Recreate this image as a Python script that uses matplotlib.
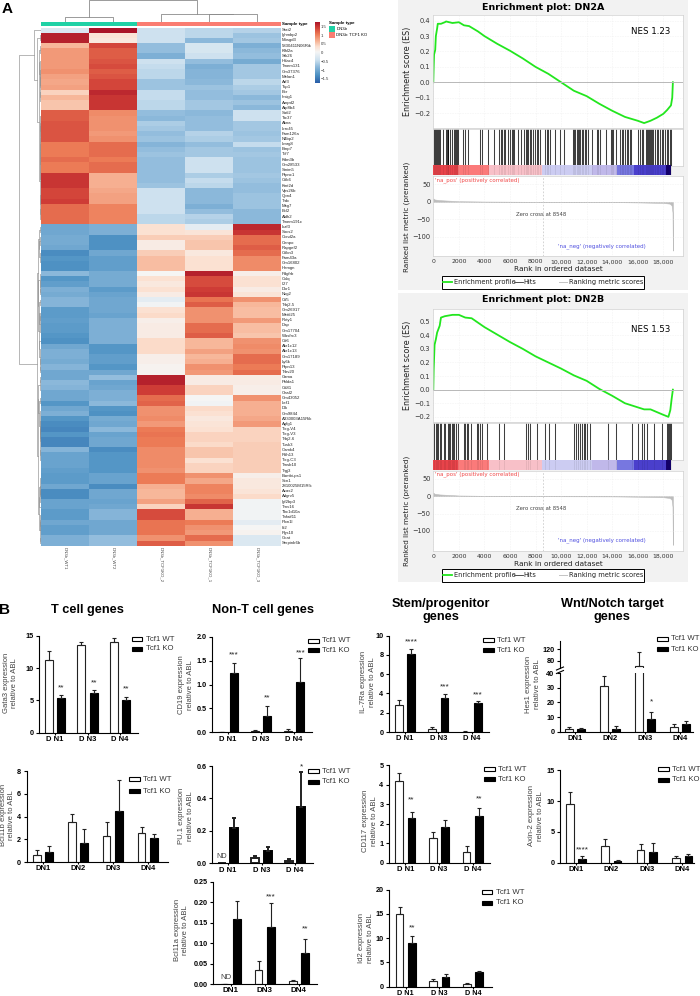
import numpy as np
import matplotlib
matplotlib.use('Agg')
import matplotlib.pyplot as plt
from matplotlib.colors import LinearSegmentedColormap
from matplotlib.lines import Line2D
from matplotlib.patches import Rectangle

W, H = 700, 996
SANS = 'Liberation Sans'
JAVA = 'DejaVu Sans'
plt.rcParams['font.family'] = [SANS, 'DejaVu Sans']

# HEATMAP DATA (panel A)
genes = ['Stat2', 'Ighmbp2', 'Mosgd3', '5830411N06Rik', 'Klhl2a', 'Stk26', 'Hdac4', 'Tmem131', 'Gm37376', 'Melan1',
         'Arf3', 'Top1', 'Bcr', 'Insig1', 'Ampd2', 'Atp8b4', 'Satl2', 'Ttc37', 'Akna', 'Lrrc45',
         'Fam126a', 'N4bp2', 'Lmrg8', 'Bmp7', 'Tcf7', 'Kdm3b', 'Gm28533', 'Smim5', 'Ptpnc1', 'Cdk6',
         'Kmt2d', 'Vps26b', 'Qpn4', 'Trdc', 'Mkg7', 'Bcl2', 'Aldh2', 'Tmem191c',
         'Ikzf3', 'Socs2', 'Ccnd2a', 'Cenpo', 'Rapgef2', 'Cdkn3', 'Fam43a', 'Gm16802', 'Hemgn',
         'Pdgfrb', 'Colq', 'Il27', 'Dkr1', 'Nkg2', 'Cd5', 'Trbj2-5', 'Gm26917', 'Mettl25', 'Rxty1', 'Dap',
         'Gm17704', 'Wasfrc3', 'Cd6', 'Akr1c12', 'Akr1c13', 'Gm17189', 'Ly6k', 'Ptpn13', 'Trbv20',
         'Gzma', 'Phlda1', 'Cd81', 'Oasl2', 'Gm43052', 'Lef1', 'Dlk', 'Gm9844', 'A930003A15Rik', 'Agfg1',
         'Tcrg-V4', 'Tcrg-V3', 'Trbj2-6', 'Tusk3', 'Camk4', 'Rdh13', 'Tcrg-C3', 'Tmsb10', 'Trgj3',
         'Bambi-ps1', 'Scn1', '2810025M15Rik', 'Acas2', 'Adgrv5', 'Igf2bp3', 'Trnv16', 'Tbc1d10a', 'Tnfaif11',
         'Plxn1l', 'Id2', 'Rgs10', 'Gcat', 'Serpinb6b']
samples = ['DN3b_WT1', 'DN3b_WT2', 'DN3b_TCF1KO_2', 'DN3b_TCF1KO_1', 'DN3b_TCF1KO_3']

heat_wt1 = [-.3, 1.6, 1.6, .6, .8, .8, .8, .8, .85, .75, .7, .75, .4, .6, .5, .5, 1.2, 1.2, 1.25, 1.25, 1.25, 1.25,
            1.0, 1.0, 1.0, 1.1, 1.0, 1.0, 1.45, 1.45, 1.45, 1.35, 1.35, 1.4, 1.1, 1.1, 1.1, 1.1,
            -1.05, -1.05, -1.0, -1.0, -1.05, -1.35, -1.25, -1.3, -1.3, -.85, -1.25, -1.15, -.95, -1.0,
            -.9, -.9, -1.2, -1.2, -1.15, -1.2, -1.2, -1.25, -1.3, -1.05, -.95, -.95, -1.0, -.9, -1.05,
            -1.05, -.85, -.9, -1.05, -1.05, -1.25, -1.05, -.95, -1.25, -1.35, -1.4, -1.25, -1.4, -1.4,
            -.9, -1.1, -1.1, -1.1, -1.15, -1.2, -1.2, -1.05, -1.35, -1.35, -1.1, -1.1, -1.2, -1.2,
            -1.05, -1.15, -1.15, -.95, -.95]
heat_wt2 = [1.7, .25, .2, 1.35, 1.2, 1.2, 1.25, 1.3, 1.2, 1.25, 1.35, 1.35, 1.55, 1.45, 1.45, 1.45, .9, .85, .85, .85,
            .8, .85, 1.1, 1.1, 1.1, 1.0, 1.1, 1.1, .65, .65, .65, .7, .75, .75, .95, .95, .95, .95,
            -.95, -.95, -1.3, -1.3, -1.3, -1.05, -1.15, -1.15, -1.15, -1.0, -1.0, -1.0, -1.2, -1.1,
            -1.05, -1.05, -1.05, -1.1, -.95, -.95, -.95, -.95, -.95, -1.25, -1.25, -1.15, -1.15, -1.25, -1.05,
            -.8, -1.1, -1.05, -.95, -.95, -.85, -1.25, -1.3, -1.0, -1.05, -.85, -1.1, -1.05, -1.05,
            -1.35, -1.25, -1.25, -1.25, -1.25, -1.1, -1.1, -1.35, -1.05, -1.05, -1.1, -1.05, -.9, -.9,
            -1.05, -1.05, -1.05, -.8, -.8]
heat_ko2 = [-.45, -.45, -.45, -.8, -.8, -.95, -.45, -.5, -.55, -.55, -.75, -.75, -.5, -.5, -.55, -.55, -.8, -.85,
            -.65, -.7, -.8, -.75, -.9, -.8, -.75, -.8, -.8, -.8, -.8, -.8, -.75, -.45, -.45, -.45, -.45, -.45, -.55, -.55,
            .3, .3, .45, .15, .15, .45, .55, .55, .55, 0, .3, .2, .3, .15,
            -.2, -.05, .3, .35, .1, .15, .15, .15, .35, .35, .35, .1, .1, .05, .05,
            1.6, 1.6, 1.4, 1.4, 1.1, 1.15, .85, .85, .9, .8, 1.0, 1.05, 1.0, 1.0,
            .9, .9, .9, .9, .85, 1.0, 1.0, .65, .6, .6, .75, .4, 1.3, 1.3,
            1.05, 1.05, 1.05, .85, 1.2]
heat_ko1 = [-.55, -.55, -.85, -.35, -.35, -.45, -.8, -.95, -.9, -.9, -.85, -.75, -.8, -.8, -.7, -.7, -.85, -.8,
            -.8, -.8, -.6, -.65, -.8, -.7, -.7, -.45, -.45, -.45, -.65, -.5, -.55, -.85, -.85, -.85, -.95, -.8, -.6, -.65,
            -.2, .25, .45, .5, .5, .2, .3, .3, .3, 1.6, 1.3, 1.3, 1.4, 1.45,
            1.05, 1.2, .85, .85, .85, 1.1, 1.1, 1.2, .6, .6, .75, .6, .65, .85, .8,
            .15, .15, .4, .4, 0, -.05, .35, .3, .2, .25, .3, .4, .4, .35,
            .5, .5, .3, .4, .4, .85, .7, .95, .95, .9, 1.15, 1.45, .65, .65,
            1.0, .85, .8, 1.1, .85]
heat_ko3 = [-.6, -.75, -.7, -.95, -.85, -.8, -1.0, -.7, -.7, -.7, -.55, -.65, -.7, -.85, -.75, -.85, -.45, -.45,
            -.7, -.7, -.75, -.7, -.5, -.75, -.7, -.75, -.75, -.75, -.7, -.75, -.8, -.8, -.75, -.75, -.75, -.85, -.85, -.85,
            1.55, 1.45, 1.1, 1.1, 1.2, 1.1, .9, .9, .9, .1, .3, .3, .15, .25,
            .85, .6, .55, .55, .8, .55, .55, .5, .85, .9, .85, 1.1, 1.1, 1.0, 1.1,
            .15, .15, .1, .1, .85, .65, .65, .65, .7, .8, .4, .4, .4, .45,
            .45, .45, .45, .45, .45, .1, .2, .2, .25, .35, -.05, -.05, -.05, -.05,
            -.2, 0, .05, -.3, -.3]
cbar_ticks = [-1.5, -1, -.5, 0, .5, 1, 1.5]
cbar_labels = ['\u22121.5', '\u22121', '\u22120.5', '0', '0.5', '1', '1.5']

# GSEA DATA (panel A right)
rank_ticks = [0, 2000, 4000, 6000, 8000, 10000, 12000, 14000, 16000, 18000]
rank_labels = ['0', '2000', '4000', '6000', '8000', '10,000', '12,000', '14,000', '16,000', '18,000']
es_a_rank = [0, 30, 60, 150, 200, 300, 350, 600, 900, 1000, 1500, 2000, 2400, 2800, 3500, 4000, 5000, 6000, 7000, 8000,
             9000, 10000, 11000, 12000, 13000, 14000, 15000, 16000, 16500, 17000, 17500, 18000, 18300, 18600, 18700, 18750]
es_a = [0, .1, .18, .21, .3, .35, .38, .38, .39, .395, .385, .39, .37, .365, .33, .30, .25, .205, .155, .10,
        .055, 0, -.055, -.09, -.14, -.185, -.225, -.25, -.265, -.25, -.23, -.205, -.18, -.15, -.10, 0]
es_b_rank = [0, 30, 100, 200, 300, 500, 600, 900, 1500, 2000, 2500, 3000, 4000, 5000, 6000, 7000, 8000, 9000, 10000,
             11000, 12000, 13000, 14000, 15000, 15500, 16000, 16500, 17000, 17500, 18000, 18400, 18550, 18650, 18750]
es_b = [0, .15, .33, .37, .42, .47, .53, .54, .55, .55, .53, .525, .46, .405, .35, .30, .245, .20, .155,
        .105, .065, .005, -.045, -.10, -.115, -.13, -.145, -.145, -.165, -.185, -.20, -.15, -.07, 0]
hits_a = [78, 157, 235, 313, 391, 470, 522, 783, 965, 1044, 1122, 1174, 1305, 1487, 1644, 1722, 1800, 1878, 1957, 2348,
          2479, 2687, 3653, 3783, 4305, 4775, 5140, 5270, 5401, 5531, 5609, 5870, 6000, 6131, 6262, 6340, 6653, 6862,
          7123, 7227, 7331, 7436, 7540, 7644, 7827, 7958, 8088, 8218, 8349, 8740, 8871, 8949, 9132, 9523, 9914, 10254,
          10906, 11010, 11115, 11219, 11323, 11427, 11480, 11610, 11741, 11871, 11975, 12080, 12393, 12784, 12915,
          13045, 13489, 13906, 14010, 14088, 14271, 14610, 14740, 14871, 15002, 15132, 15263, 15367, 15471, 16045,
          16175, 16306, 16436, 16619, 16697, 16775, 16854, 16932, 17010, 17088, 17219, 17350, 17480, 17610, 17741,
          17871, 18002, 18132, 18263, 18393, 18497, 18575]
hits_b = [78, 183, 287, 391, 496, 600, 861, 939, 1122, 1226, 1331, 1435, 1513, 1644, 1775, 1905, 2401, 2505, 2609, 2713,
          2948, 3418, 3522, 3627, 3835, 4175, 5166, 5505, 7227, 7384, 7592, 8088, 8714, 9079, 9549, 11036, 11166, 11349,
          11480, 11610, 11767, 11871, 12002, 12263, 13697, 14297, 15576, 16045, 16358, 16515, 16750, 17298, 17871,
          18315, 18393, 18471, 18550, 18602]
bar_edges = [0, 1960, 4360, 8480, 12400, 14350, 15700, 18180, 18600]
bar_colors = ['#e8434a', '#fb7a7a', '#f8c0c8', '#ccccf2', '#c0b8ea', '#7777e0', '#4a3fcc', '#14006e']
metric_rank = [0, 100, 500, 1000, 2000, 4000, 8548, 14000, 16000, 18000, 18500, 18650, 18720, 18750]
metric_val = [10, 7, 5, 4, 2, 1, 0, -.5, -1.5, -3, -5, -10, -30, -140]

# BAR DATA (panel B)
dn134 = ['D N1', 'D N3', 'D N4']
dn1234 = ['DN1', 'DN2', 'DN3', 'DN4']
dn134b = ['DN1', 'DN3', 'DN4']

gata3_wt, gata3_wt_err = [11.3, 13.6, 14.0], [1.3, .4, .6]
gata3_ko, gata3_ko_err = [5.3, 6.2, 5.1], [.55, .45, .45]
gata3_stars = [(0, '**', 7.0), (1, '**', 7.7), (2, '**', 6.7)]

cd19_wt, cd19_wt_err = [.01, .03, .03], [0, .02, .03]
cd19_ko, cd19_ko_err = [1.25, .35, 1.05], [.21, .21, .5]
cd19_stars = [(0, '***', 1.62), (1, '**', .72), (2, '***', 1.67)]

il7_wt, il7_wt_err = [2.8, .35, .05], [.55, .2, .05]
il7_ko, il7_ko_err = [8.15, 3.5, 3.05], [.5, .45, .2]
il7_stars = [(0, '****', 9.35), (1, '***', 4.65), (2, '***', 3.85)]

hes1_wt, hes1_wt_err = [2, 31, 61, 3.5], [1, 7, 50, 2]
hes1_ko, hes1_ko_err = [2, 2, 8.5, 5.5], [.7, 2.2, 5, 2]
hes1_stars = [(2, '*', 20.5)]

bcl11b_wt, bcl11b_wt_err = [.6, 3.5, 2.3, 2.6], [.5, .7, 1.2, .5]
bcl11b_ko, bcl11b_ko_err = [.85, 1.65, 4.5, 2.1], [.6, 1.25, 2.75, .4]

pu1_wt, pu1_wt_err = [0, .03, .015], [0, .012, .01]
pu1_ko, pu1_ko_err = [.22, .075, .35], [.06, .025, .21]
pu1_stars = [(2, '*', .595)]

bcl11a_wt, bcl11a_wt_err = [0, .034, .008], [0, .023, .001]
bcl11a_ko, bcl11a_ko_err = [.16, .14, .075], [.043, .057, .035]
bcl11a_stars = [(1, '***', .213), (2, '**', .135)]

cd117_wt, cd117_wt_err = [4.2, 1.27, .57], [.38, .32, .3]
cd117_ko, cd117_ko_err = [2.3, 1.85, 2.4], [.27, .33, .4]
cd117_stars = [(0, '**', 3.2), (2, '**', 3.25)]

axin2_wt, axin2_wt_err = [9.5, 2.7, 2.1, .8], [1.9, 1.1, 1, .3]
axin2_ko, axin2_ko_err = [.6, .3, 1.7, 1.1], [.5, .2, 1.5, .3]
axin2_stars = [(0, '****', 2.1)]

id2_wt, id2_wt_err = [15, 1.1, .5], [1.4, .45, .3]
id2_ko, id2_ko_err = [9, 2.1, 3.0], [1.5, .6, .3]
id2_stars = [(0, '**', 12.2)]

fig = plt.figure(figsize=(W / 100, H / 100), dpi=100)


def px_axes(left, top, right, bottom):
    return fig.add_axes([left / W, 1 - bottom / H, (right - left) / W, (bottom - top) / H])


def px_text(x, y, s, **kw):
    return fig.text(x / W, 1 - y / H, s, **kw)


def px_rect(x0, y0, x1, y1, **kw):
    fig.add_artist(Rectangle((x0 / W, 1 - y1 / H), (x1 - x0) / W, (y1 - y0) / H, transform=fig.transFigure, **kw))


def px_line(x0, x1, y, **kw):
    fig.add_artist(Line2D([x0 / W, x1 / W], [1 - y / H, 1 - y / H], **kw))


# --- Heatmap ---
heat = np.column_stack([heat_wt1, heat_wt2, heat_ko2, heat_ko1, heat_ko3])
n_rows, n_cols = heat.shape
hm_left, hm_right, hm_top, hm_bottom = 41, 281, 27.5, 545.7
heat_cmap = LinearSegmentedColormap.from_list('heat', [
    (0, '#2a5ea8'), (.13, '#4f93c4'), (.26, '#8db9db'), (.37, '#cde1ef'), (.5, '#f5f5f5'), (.59, '#fbe0d0'),
    (.67, '#f7b79a'), (.79, '#ec7a55'), (.9, '#cf3d36'), (1, '#a50f26')])

ax_hm = px_axes(hm_left, hm_top, hm_right, hm_bottom)
ax_hm.pcolormesh(np.arange(n_cols + 1), np.arange(n_rows + 1), heat, cmap=heat_cmap, vmin=-1.75, vmax=1.75)
ax_hm.set_ylim(n_rows, 0)
ax_hm.set_xlim(0, n_cols)
ax_hm.axis('off')
row_h = (hm_bottom - hm_top) / n_rows
col_w = (hm_right - hm_left) / n_cols
for i, g in enumerate(genes):
    px_text(282, hm_top + (i + .5) * row_h, g, fontsize=3.1, va='center', color='#222222')
for i, s in enumerate(samples):
    px_text(hm_left + (i + .5) * col_w, 547, s, fontsize=3.1, rotation=270, va='top', ha='center', color='#444444')

# annotation bar
ax_ann = px_axes(hm_left, 22, hm_right, 26.3)
ax_ann.barh(0, 2, left=0, height=1, color='#1fd1a5')
ax_ann.barh(0, 3, left=2, height=1, color='#fa7d72')
ax_ann.set_xlim(0, 5)
ax_ann.set_ylim(-.5, .5)
ax_ann.axis('off')
px_text(282, 24.5, 'Sample type', fontsize=3.2, fontweight='bold', va='center')

# colorbar
ax_cb = px_axes(314.7, 22, 319, 83.3)
ax_cb.imshow(np.linspace(1.75, -1.75, 200).reshape(-1, 1), cmap=heat_cmap, vmin=-1.75, vmax=1.75,
             aspect='auto', extent=[0, 1, -1.75, 1.75])
ax_cb.set_xticks([])
ax_cb.yaxis.tick_right()
ax_cb.set_yticks(cbar_ticks, cbar_labels)
ax_cb.tick_params(axis='y', labelsize=3.1, length=0, pad=1.5, colors='#333333')
for sp in ax_cb.spines.values():
    sp.set_visible(False)
px_text(329, 23, 'Sample type', fontsize=3.2, fontweight='bold', va='center')
px_rect(329, 26, 335, 32, color='#1fd1a5', lw=0)
px_rect(329, 32, 335, 38, color='#fa7d72', lw=0)
px_text(336.5, 29, 'DN3b', fontsize=3.1, va='center')
px_text(336.5, 35, 'DN3b: TCF1 KO', fontsize=3.1, va='center')

# row dendrogram: adjacent rows are merged bottom-up from the heatmap values
ax_rd = px_axes(19, hm_top, hm_left, hm_bottom)
clusters = [dict(y=i + .5, h=0.0, mean=heat[i], n=1) for i in range(n_rows)]
links = []
while len(clusters) > 1:
    dists = [np.linalg.norm(a['mean'] - b['mean']) for a, b in zip(clusters[:-1], clusters[1:])]
    k = int(np.argmin(dists))
    a, b = clusters[k], clusters[k + 1]
    hh = max(dists[k], a['h'], b['h'])
    links.append((a['y'], a['h'], b['y'], b['h'], hh))
    n = a['n'] + b['n']
    clusters[k:k + 2] = [dict(y=(a['y'] + b['y']) / 2, h=hh, mean=(a['mean'] * a['n'] + b['mean'] * b['n']) / n, n=n)]
for y0, h0, y1, h1, hh in links:
    ax_rd.plot([h0 ** 1.3, hh ** 1.3, hh ** 1.3, h1 ** 1.3], [y0, y0, y1, y1], color='#8f8f8f', lw=.45)
ax_rd.set_ylim(n_rows, 0)
ax_rd.set_xlim(links[-1][4] ** 1.3, 0)
ax_rd.axis('off')

# column dendrogram
ax_cd = px_axes(hm_left, 0, hm_right, 22)
ax_cd.set_xlim(0, n_cols)
ax_cd.set_ylim(0, 22)
col_pos = np.arange(n_cols) + .5
dc = '#8a8a8a'
left_top, right_top, mid_top, root_top = 5, 8, 8.3, 22
ax_cd.plot([col_pos[0], col_pos[0], col_pos[1], col_pos[1]], [0, left_top, left_top, 0], color=dc, lw=.6)
ax_cd.plot([col_pos[3], col_pos[3], col_pos[4], col_pos[4]], [0, right_top, right_top, 0], color=dc, lw=.6)
inner = (col_pos[3] + col_pos[4]) / 2
ax_cd.plot([col_pos[2], col_pos[2], inner, inner], [0, mid_top, mid_top, right_top], color=dc, lw=.6)
lmid = (col_pos[0] + col_pos[1]) / 2
rmid = (col_pos[2] + inner) / 2
ax_cd.plot([lmid, lmid, rmid, rmid], [left_top, root_top, root_top, mid_top], color=dc, lw=.6)
ax_cd.axis('off')


# --- GSEA panels ---
def style_spines(ax):
    for sp in ax.spines.values():
        sp.set_color('#d0d0d0')
        sp.set_linewidth(.5)


def gsea_panel(y0, title, nes, es_rank, es, hits, es_lim, es_ticks, es_top, es_bot, nes_y):
    px_rect(398, y0, 688, y0 + 289.5, color='#f2f2f2', lw=0, zorder=-5)
    px_text(543, y0 + 7, title, fontsize=6.8, fontweight='bold', ha='center', va='center', family=JAVA)
    xlim = (0, 19565)

    ax = px_axes(433.3, es_top, 683.3, es_bot)
    ax.plot(es_rank, es, color='#22e61e', lw=1.3, solid_joinstyle='round')
    ax.axhline(0, color='#b8b8b8', lw=.7)
    ax.set_xlim(*xlim)
    ax.set_ylim(*es_lim)
    ax.set_yticks(es_ticks, [f'{t:.1f}'.replace('-', '\u2212') for t in es_ticks], family=JAVA)
    ax.set_xticks(rank_ticks, [])
    ax.grid(color='#e6e6e6', lw=.4, ls=(0, (1, 2)))
    ax.tick_params(labelsize=4.8, length=0, pad=2, colors='#333333')
    ax.set_ylabel('Enrichment score (ES)', fontsize=5.8, family=JAVA, color='#222222', labelpad=2)
    style_spines(ax)
    px_text(670, nes_y, nes, fontsize=6.2, ha='right', va='center', family=JAVA)

    ax_h = px_axes(433.3, es_bot + .8, 683.3, es_bot + 37.5)
    ax_h.vlines(hits, 0, 1, color='black', lw=.75, alpha=.75)
    ax_h.set_xlim(*xlim)
    ax_h.set_ylim(0, 1)
    ax_h.set_xticks([])
    ax_h.set_yticks([])
    style_spines(ax_h)

    ax_b = px_axes(433.3, es_bot + 37.5, 683.3, es_bot + 47.5)
    for lo, hi, c in zip(bar_edges[:-1], bar_edges[1:], bar_colors):
        ax_b.barh(0, hi - lo, left=lo, height=1, color=c, lw=0)
    ax_b.vlines(hits, -.5, .5, color='black', lw=.5, alpha=.1)
    ax_b.set_xlim(*xlim)
    ax_b.set_ylim(-.5, .5)
    ax_b.axis('off')

    ax_m = px_axes(433.3, es_bot + 48.5, 683.3, es_bot + 128.5)
    ax_m.fill_between(metric_rank, metric_val, 0, color='#bdbdbd', lw=.4)
    ax_m.axvline(8548, color='#cccccc', lw=.6, ls=(0, (2, 2)))
    ax_m.set_xlim(*xlim)
    ax_m.set_ylim(-157, 73)
    ax_m.set_yticks([50, 0, -50, -100], ['50', '0', '\u221250', '\u2212100'], family=JAVA)
    ax_m.set_xticks(rank_ticks, rank_labels, family=JAVA)
    ax_m.grid(color='#e6e6e6', lw=.4, ls=(0, (1, 2)))
    ax_m.tick_params(axis='y', labelsize=4.8, length=0, pad=2, colors='#333333')
    ax_m.tick_params(axis='x', labelsize=4.4, length=0, pad=2, colors='#333333')
    ax_m.set_xlabel('Rank in ordered dataset', fontsize=5.3, family=JAVA, color='#222222', labelpad=1.5)
    ax_m.set_ylabel('Ranked list metric (preranked)', fontsize=5.2, family=JAVA, color='#222222', labelpad=2)
    style_spines(ax_m)
    ax_m.text(150, 62, "'na_pos' (positively correlated)", color='#f04848', fontsize=3.95, va='center', family=JAVA)
    ax_m.text(8450, -35, 'Zero cross at 8548', color='#444444', fontsize=3.9, ha='center', va='center', family=JAVA)
    ax_m.text(9780, -127, "'na_neg' (negatively correlated)", color='#5050e0', fontsize=3.95, va='center', family=JAVA)

    # legend box, spaced by hand because the Hits entry sits tight against the first one
    ym = y0 + 282.3
    px_rect(441.7, ym - 6.2, 644.3, ym + 6.2, facecolor='white', edgecolor='black', lw=.7)
    px_line(443.3, 451.7, ym, color='#22e61e', lw=1.3)
    px_text(453.7, ym, 'Enrichment profile', fontsize=4.75, va='center', family=JAVA, color='#222222')
    px_line(514.3, 523, ym, color='#333333', lw=.6)
    px_text(523.3, ym, 'Hits', fontsize=4.75, va='center', family=JAVA, color='#222222')
    px_line(559, 566.7, ym, color='#c4c4c4', lw=.7)
    px_text(568.7, ym, 'Ranking metric scores', fontsize=4.75, va='center', family=JAVA, color='#222222')


gsea_panel(0, 'Enrichment plot: DN2A', 'NES 1.23', es_a_rank, es_a, hits_a, (-.297, .437),
           [.4, .3, .2, .1, 0, -.1, -.2], 15, 128, 31)
gsea_panel(293, 'Enrichment plot: DN2B', 'NES 1.53', es_b_rank, es_b, hits_b, (-.24, .593),
           [.5, .4, .3, .2, .1, 0, -.1, -.2], 309, 422.3, 330)


# --- Bar panels ---
def bars(ax, wt, wt_err, ko, ko_err, width, off, lw=.8, cap=1.6):
    xx = np.arange(len(wt))
    ax.bar(xx - off, wt, width, color='white', edgecolor='#222222', lw=lw)
    ax.bar(xx + off, ko, width, color='black', edgecolor='black', lw=lw)
    for pos, val, err in [(xx - off, wt, wt_err), (xx + off, ko, ko_err)]:
        ax.errorbar(pos, val, yerr=[np.zeros(len(err)), err], fmt='none', ecolor='#222222',
                    elinewidth=lw, capsize=cap, capthick=lw)


def bar_panel(left, right, top, bottom, first, step, ylim, yticks, labels, wt, wt_err, ko, ko_err, ylabel, ylab_x, ylab_y,
              legend=None, stars=(), lw=.8, label_size=5.5):
    ax = px_axes(left, top, right, bottom)
    width = 7.7 / step
    off = 6.2 / step
    bars(ax, wt, wt_err, ko, ko_err, width, off, lw=lw)
    ax.set_xlim((left - first) / step, (right - first) / step)
    ax.set_ylim(*ylim)
    ax.set_xticks(np.arange(len(labels)), labels, fontweight='bold', fontsize=label_size)
    ax.set_yticks(yticks)
    ax.tick_params(axis='y', labelsize=5.2, length=2.5, width=.8, pad=1.5)
    ax.tick_params(axis='x', length=1.5, width=.8, pad=1)
    for lab in ax.get_yticklabels():
        lab.set_fontweight('bold')
    for side in ['top', 'right']:
        ax.spines[side].set_visible(False)
    for side in ['left', 'bottom']:
        ax.spines[side].set_linewidth(.8)
    for g, s, v in stars:
        ax.text(g + off, v, s, fontsize=6, ha='center', va='center', color='#222222')
    px_text(ylab_x, ylab_y, ylabel, fontsize=5.5, rotation=90, ha='center', va='center', color='#444444', linespacing=1.25,
            multialignment='center')
    if legend is not None:
        sx, y1, y2 = legend
        px_rect(sx, y1 - 2, sx + 10.5, y1 + 2, facecolor='white', edgecolor='black', lw=.8)
        px_rect(sx, y2 - 2, sx + 10.5, y2 + 2, facecolor='black', edgecolor='black', lw=.8)
        px_text(sx + 14, y1, 'Tcf1 WT', fontsize=5.6, va='center', color='#333333')
        px_text(sx + 14, y2, 'Tcf1 KO', fontsize=5.6, va='center', color='#333333')
    return ax


bar_panel(39, 137.7, 635.7, 732.7, 55, 32.5, (0, 15), [0, 5, 10, 15], dn134, gata3_wt, gata3_wt_err, gata3_ko, gata3_ko_err,
          'Gata3 expression\nrelative to ABL', 10.5, 683, (131.7, 639.3, 649), gata3_stars)
bar_panel(212, 312, 636.7, 732.3, 227.7, 33.2, (0, 2), [0, .5, 1, 1.5, 2], dn134, cd19_wt, cd19_wt_err, cd19_ko, cd19_ko_err,
          'CD19 expression\nrelative to ABL', 186, 685, (308.3, 640.7, 650), cd19_stars)
bar_panel(389, 489.3, 635.7, 732, 405, 33.3, (0, 10), [0, 2, 4, 6, 8, 10], dn134, il7_wt, il7_wt_err, il7_ko, il7_ko_err,
          'IL-7Ra expression\nrelative to ABL', 368, 681.7, (483.3, 640, 650.3), il7_stars)

# Hes1 has a broken axis: lower part 0-40, upper part from about 53
ax_low = bar_panel(560, 693.3, 673, 731.7, 575, 35, (0, 40), [0, 10, 20, 30, 40], dn1234, hes1_wt, hes1_wt_err, hes1_ko, hes1_ko_err,
                   'Hes1 expression\nrelative to ABL', 533, 684, (657, 639, 649.3), hes1_stars)
ax_up = px_axes(560, 640.7, 693.3, 668.3)
bars(ax_up, hes1_wt, hes1_wt_err, hes1_ko, hes1_ko_err, 7.7 / 35, 6.2 / 35)
ax_up.set_xlim(*ax_low.get_xlim())
ax_up.set_ylim(53, 150.6)
ax_up.set_yticks([80, 120])
ax_up.set_xticks([])
ax_up.tick_params(axis='y', labelsize=5.2, length=2.5, width=.8, pad=1.5)
for lab in ax_up.get_yticklabels():
    lab.set_fontweight('bold')
for side in ['top', 'right', 'bottom']:
    ax_up.spines[side].set_visible(False)
ax_up.spines['left'].set_linewidth(.8)
for yy in (668.5, 672):
    fig.add_artist(Line2D([556.5 / W, 563.5 / W], [1 - (yy + 1.5) / H, 1 - (yy - 1.5) / H], color='black', lw=.8))

bar_panel(26.7, 168.3, 771.3, 862, 43, 34.9, (0, 8), [0, 2, 4, 6, 8], dn1234, bcl11b_wt, bcl11b_wt_err, bcl11b_ko, bcl11b_ko_err,
          'Bcl11b expression\nrelative to ABL', 7.5, 815, (129, 779.3, 791))
ax_pu = bar_panel(212, 313.3, 766, 863.3, 228, 33.5, (0, .6), [0, .2, .4, .6], dn134, pu1_wt, pu1_wt_err, pu1_ko, pu1_ko_err,
                  'PU.1 expression\nrelative to ABL', 186, 816, (308.3, 771.3, 781.7), pu1_stars, lw=1.4)
ax_pu.text(-.19, .04, 'ND', fontsize=5.2, ha='center', va='center', color='#444444')
ax_11a = bar_panel(213.3, 316.7, 881.7, 984, 230.7, 34.1, (0, .25), [0, .05, .1, .15, .2, .25], dn134b, bcl11a_wt, bcl11a_wt_err, bcl11a_ko, bcl11a_ko_err,
                   'Bcl11a expression\nrelative to ABL', 181.5, 930, None, bcl11a_stars, label_size=5.8)
ax_11a.text(-.14, .0155, 'ND', fontsize=5.6, ha='center', va='center', color='#444444')
bar_panel(389, 490, 765, 862.7, 405.3, 33.7, (0, 5), [0, 1, 2, 3, 4, 5], dn134, cd117_wt, cd117_wt_err, cd117_ko, cd117_ko_err,
          'CD117 expression\nrelative to ABL', 370, 821, (484.3, 769, 779.3), cd117_stars)
bar_panel(560, 694.3, 770.3, 862.7, 576, 35.4, (0, 15), [0, 5, 10, 15], dn1234, axin2_wt, axin2_wt_err, axin2_ko, axin2_ko_err,
          'Axin-2 expression\nrelative to ABL', 536, 816, (658.3, 769, 779.7), axin2_stars)
bar_panel(389, 491.7, 889.7, 986.7, 405.7, 33.7, (0, 20), [0, 5, 10, 15, 20], dn134, id2_wt, id2_wt_err, id2_ko, id2_ko_err,
          'Id2 expression\nrelative to ABL', 366, 938, (481.7, 892.3, 903), id2_stars, label_size=5.2)

# headings
head = dict(fontsize=9.2, fontweight='bold', ha='center', va='center')
px_text(87.7, 610, 'T cell genes', **head)
px_text(263.3, 610, 'Non-T cell genes', **head)
px_text(440.7, 610.5, 'Stem/progenitor\ngenes', linespacing=1.2, **head)
px_text(612, 610.5, 'Wnt/Notch target\ngenes', linespacing=1.2, **head)
px_text(7.5, 9, 'A', fontsize=11, fontweight='bold', ha='center', va='center')
px_text(5, 610, 'B', fontsize=11, fontweight='bold', ha='center', va='center')

plt.savefig('out.png', dpi=100)
